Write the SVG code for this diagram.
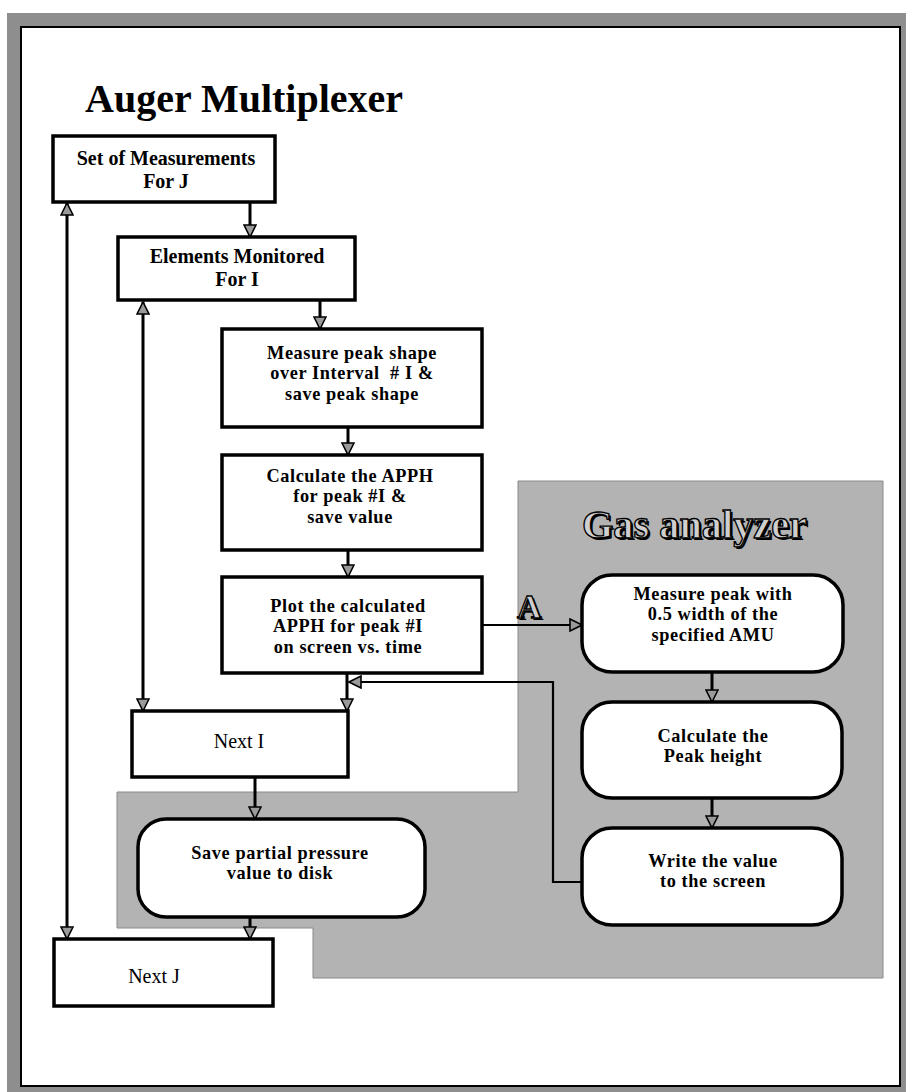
<svg xmlns="http://www.w3.org/2000/svg" width="906" height="1092" viewBox="0 0 906 1092">
<style>
.box{fill:#fff;stroke:#000;stroke-width:3.5}
.t{font-family:"Liberation Serif","Times New Roman",serif;font-weight:bold;font-size:20px;text-anchor:middle;fill:#000}
.m{font-size:18.3px;letter-spacing:0.6px}
.r{font-family:"Liberation Serif","Times New Roman",serif;font-size:20px;text-anchor:middle;fill:#000}
.c{fill:none;stroke:#000;stroke-width:3}
.c2{fill:none;stroke:#000;stroke-width:2.2}
.big{font-family:"Liberation Serif","Times New Roman",serif;font-weight:bold;font-size:40px;fill:#000}
.out{font-family:"Liberation Serif","Times New Roman",serif;font-weight:bold;fill:#cfcfcf;stroke:#000;stroke-width:1.3}
.sh{font-family:"Liberation Serif","Times New Roman",serif;font-weight:bold;fill:#000}
</style>
<defs>
<marker id="ah" markerUnits="userSpaceOnUse" viewBox="0 0 14 14" refX="13" refY="7" markerWidth="14" markerHeight="14" orient="auto-start-reverse">
<path d="M1,1 L13,7 L1,13 Z" fill="#9a9a9a" stroke="#000" stroke-width="1.6" stroke-linejoin="miter"/>
</marker>
</defs>
<rect x="0" y="0" width="906" height="1092" fill="#fff"/>
<g id="frame">
<rect x="7" y="13" width="899" height="1079" fill="#8e8e8e"/>
<rect x="21" y="27" width="879" height="1059" fill="#fff" stroke="#000" stroke-width="2"/>
</g>
<g id="shaded">
<path d="M518,481 L883,481 L883,978 L313,978 L313,928 L117,928 L117,792 L518,792 Z" fill="#b3b3b3" stroke="#8a8a8a" stroke-width="1"/>
</g>
<g id="title">
<text class="big" x="85" y="112">Auger Multiplexer</text>
</g>
<g id="gas-title">
<text class="sh" x="584" y="540" font-size="40" textLength="225" lengthAdjust="spacingAndGlyphs">Gas analyzer</text>
<text class="out" x="582" y="538" font-size="40" textLength="225" lengthAdjust="spacingAndGlyphs">Gas analyzer</text>
</g>
<g id="connectors">
<line class="c" x1="250" y1="202" x2="250" y2="237" marker-end="url(#ah)"/>
<line class="c" x1="320" y1="300" x2="320" y2="329" marker-end="url(#ah)"/>
<line class="c" x1="348" y1="427" x2="348" y2="455" marker-end="url(#ah)"/>
<line class="c" x1="348" y1="550" x2="348" y2="577" marker-end="url(#ah)"/>
<line class="c" x1="347" y1="673" x2="347" y2="711" marker-end="url(#ah)"/>
<line class="c2" x1="482" y1="625" x2="582" y2="625" marker-end="url(#ah)"/>
<line class="c" x1="712" y1="672" x2="712" y2="702" marker-end="url(#ah)"/>
<line class="c" x1="712" y1="798" x2="712" y2="828" marker-end="url(#ah)"/>
<path class="c2" d="M582,882 L553,882 L553,682 L349,682" marker-end="url(#ah)"/>
<line class="c" x1="143" y1="302" x2="143" y2="711" marker-start="url(#ah)" marker-end="url(#ah)"/>
<line class="c" x1="67" y1="203" x2="67" y2="939" marker-start="url(#ah)" marker-end="url(#ah)"/>
<line class="c" x1="255" y1="777" x2="255" y2="819" marker-end="url(#ah)"/>
<line class="c" x1="250" y1="917" x2="250" y2="939" marker-end="url(#ah)"/>
</g>
<g id="label-A">
<text class="sh" x="519" y="620" font-size="34">A</text>
<text class="out" x="517" y="618" font-size="34">A</text>
</g>
<g id="set-measurements">
<rect class="box" x="53" y="136" width="222" height="66"/>
<text class="t" x="166" y="164.5" font-size="23.5">Set of Measurements</text>
<text class="t" x="166" y="188">For J</text>
</g>
<g id="elements-monitored">
<rect class="box" x="118" y="237" width="237" height="63"/>
<text class="t" x="237" y="263">Elements Monitored</text>
<text class="t" x="237" y="286">For I</text>
</g>
<g id="measure-peak-shape">
<rect class="box" x="222" y="329" width="260" height="98"/>
<text class="t m" x="352" y="358.5">Measure peak shape</text>
<text class="t m" x="352" y="379" xml:space="preserve">over Interval  # I &amp;</text>
<text class="t m" x="352" y="399.5">save peak shape</text>
</g>
<g id="calculate-apph">
<rect class="box" x="222" y="455" width="260" height="95"/>
<text class="t m" x="350" y="481.5">Calculate the APPH</text>
<text class="t m" x="350" y="502">for peak #I &amp;</text>
<text class="t m" x="350" y="522.5">save value</text>
</g>
<g id="plot-apph">
<rect class="box" x="222" y="577" width="260" height="96"/>
<text class="t m" x="348" y="611.5">Plot the calculated</text>
<text class="t m" x="348" y="632">APPH for peak #I</text>
<text class="t m" x="348" y="652.5">on screen vs. time</text>
</g>
<g id="next-i">
<rect class="box" x="132" y="711" width="216" height="66"/>
<text class="r" x="239" y="748">Next I</text>
</g>
<g id="save-partial-pressure">
<rect class="box" x="138" y="819" width="287" height="98" rx="28" ry="28"/>
<text class="t m" x="280" y="858.5">Save partial pressure</text>
<text class="t m" x="280" y="879">value to disk</text>
</g>
<g id="next-j">
<rect class="box" x="54" y="939" width="219" height="67"/>
<text class="r" x="154" y="983">Next J</text>
</g>
<g id="measure-peak-width">
<rect class="box" x="582" y="575" width="261" height="97" rx="30" ry="30"/>
<text class="t m" x="713" y="599.5">Measure peak with</text>
<text class="t m" x="713" y="620">0.5 width of the</text>
<text class="t m" x="713" y="640.5">specified AMU</text>
</g>
<g id="calculate-peak-height">
<rect class="box" x="582" y="702" width="260" height="96" rx="30" ry="30"/>
<text class="t m" x="713" y="741.5">Calculate the</text>
<text class="t m" x="713" y="762">Peak height</text>
</g>
<g id="write-value">
<rect class="box" x="582" y="828" width="260" height="97" rx="30" ry="30"/>
<text class="t m" x="713" y="866.5">Write the value</text>
<text class="t m" x="713" y="887">to the screen</text>
</g>
</svg>
